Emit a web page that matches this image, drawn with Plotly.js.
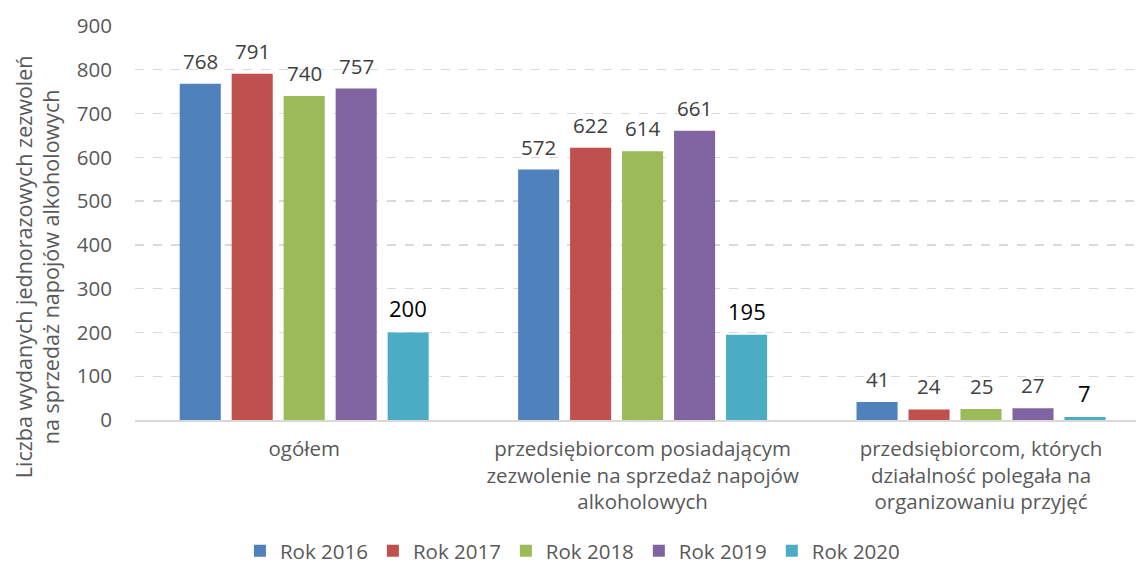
<!DOCTYPE html>
<html>
<head>
<meta charset="utf-8">
<script src="https://cdn.plot.ly/plotly-3.0.1.min.js"></script>
<style>html,body{margin:0;padding:0;background:#fff;}#chart{width:1136px;height:572px;}</style>
</head>
<body>
<div id="chart"></div>
<script>
const categories = [
  "ogółem",
  "przedsiębiorcom posiadającym<br>zezwolenie na sprzedaż napojów<br>alkoholowych",
  "przedsiębiorcom, których<br>działalność polegała na<br>organizowaniu przyjęć"
];
const seriesNames = ["Rok 2016", "Rok 2017", "Rok 2018", "Rok 2019", "Rok 2020"];
const rok2016 = [768, 572, 41];
const rok2017 = [791, 622, 24];
const rok2018 = [740, 614, 25];
const rok2019 = [757, 661, 27];
const rok2020 = [200, 195, 7];
const yTicks = [0, 100, 200, 300, 400, 500, 600, 700, 800, 900];
const yTitle = "Liczba wydanych jednorazowych zezwoleń<br>na sprzedaż napojów alkoholowych";

const seriesValues = [rok2016, rok2017, rok2018, rok2019, rok2020];
const colors = ["#4F81BD", "#C0504D", "#9BBB59", "#8064A2", "#4BACC6"];
const FONT = "Open Sans, Lato, sans-serif";
const GRAY = "#595959";

const marginL = 135, marginR = 0, W = 1136;
const xRange = [-0.5, 2.458];
const bargap = 0.232;
const unitPx = (W - marginL - marginR) / (xRange[1] - xRange[0]);
const slotPx = unitPx * (1 - bargap) / seriesValues.length;

const traces = seriesValues.map((vals, i) => ({
  type: "bar",
  name: seriesNames[i],
  x: categories,
  y: vals,
  marker: {color: colors[i], line: {width: 0}},
  hoverinfo: "x+y+name"
}));

const annotations = [];
seriesValues.forEach((vals, i) => {
  vals.forEach((v, j) => {
    const last = i === seriesValues.length - 1;
    annotations.push({
      x: categories[j], y: v, xref: "x", yref: "y",
      text: String(v), showarrow: false,
      xanchor: "center", yanchor: "bottom",
      xshift: (i - (seriesValues.length - 1) / 2) * slotPx,
      yshift: 7,
      font: {family: FONT, size: last ? 22 : 20.5, color: last ? "#000000" : "#404040"}
    });
  });
});
annotations.push({
  xref: "paper", yref: "paper", x: -0.098, y: 0.39,
  text: yTitle, showarrow: false, textangle: -90,
  xanchor: "center", yanchor: "middle", align: "center",
  font: {family: FONT, size: 21.5, color: GRAY}
});

const layout = {
  width: 1136, height: 572,
  margin: {l: marginL, r: marginR, t: 26, b: 152, pad: 0, autoexpand: false},
  paper_bgcolor: "#ffffff", plot_bgcolor: "#ffffff",
  barmode: "group", bargap: bargap, bargroupgap: 0.21,
  font: {family: FONT, size: 20.5, color: GRAY},
  xaxis: {
    type: "category", range: xRange,
    showgrid: false, zeroline: false, showline: true,
    linecolor: "#D9D9D9", linewidth: 1.5, ticks: "",
    ticklabelstandoff: 10,
    tickfont: {family: FONT, size: 20.5, color: GRAY},
    automargin: false
  },
  yaxis: {
    range: [0, 900], tickvals: yTicks, ticktext: yTicks.map(String),
    showgrid: true, gridcolor: "#D9D9D9", griddash: "dash", gridwidth: 1.3,
    zeroline: false, showline: false, ticks: "",
    ticklabelstandoff: 22,
    tickfont: {family: FONT, size: 20.5, color: GRAY},
    automargin: false
  },
  legend: {
    orientation: "h", x: 0.437, xanchor: "center", y: -0.383, yanchor: "bottom",
    font: {family: FONT, size: 20.5, color: GRAY},
    itemwidth: 30, traceorder: "normal"
  },
  annotations: annotations,
  showlegend: true
};

Plotly.newPlot("chart", traces, layout, {displayModeBar: false, staticPlot: true});
</script>
</body>
</html>
